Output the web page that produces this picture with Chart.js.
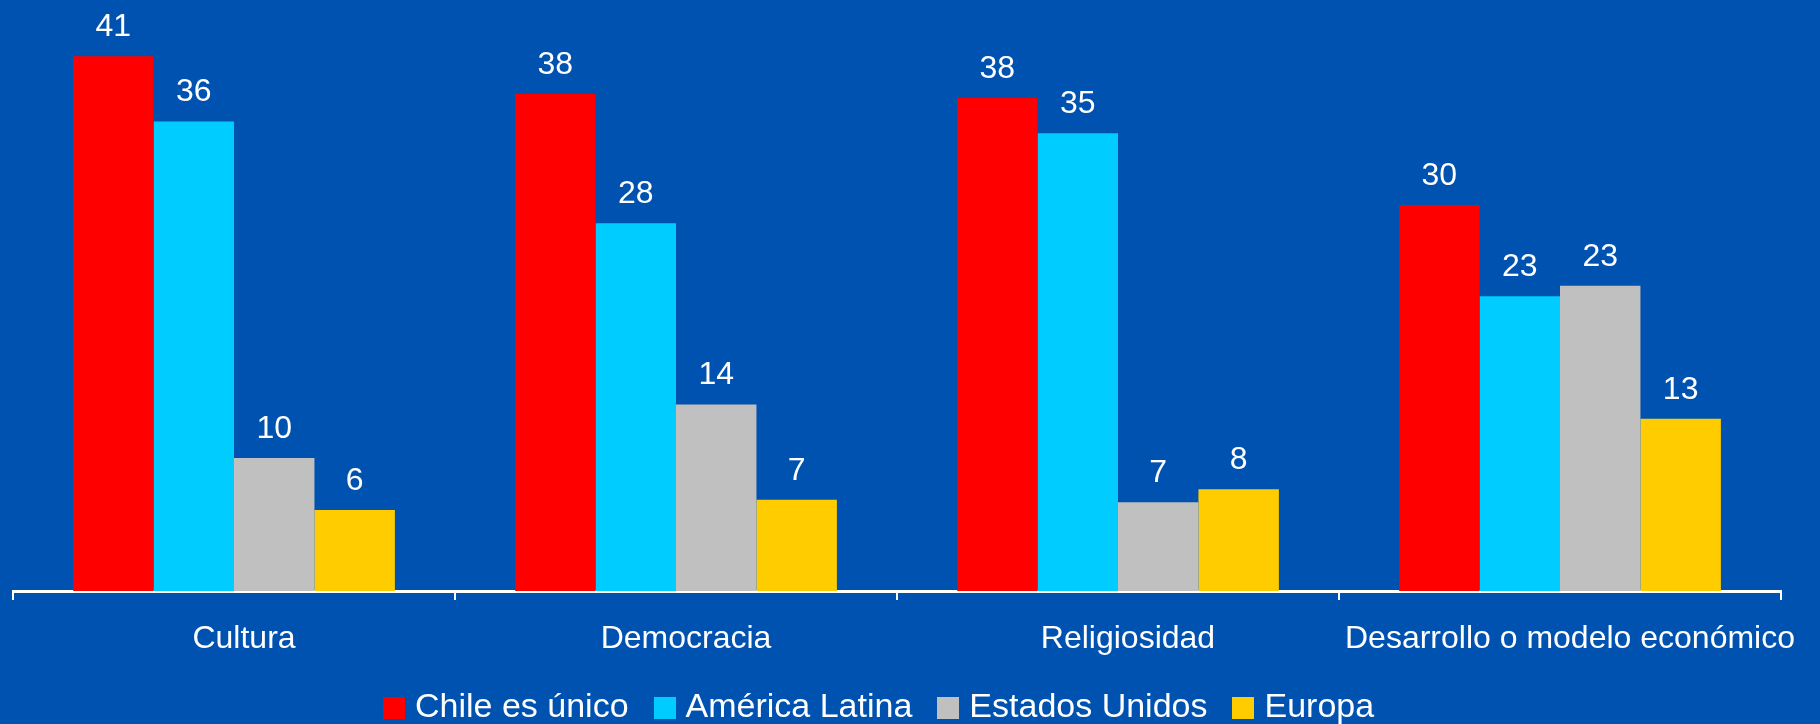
<!DOCTYPE html>
<html>
<head>
<meta charset="utf-8">
<script src="https://cdn.jsdelivr.net/npm/chart.js@4/dist/chart.umd.min.js"></script>
<style>
  body { margin: 0; background: #0052b0; }
  #wrap { position: relative; width: 1820px; height: 724px; overflow: hidden; }
  #legend {
    position: absolute; top: 688px; left: 383px;
    display: flex; align-items: flex-start;
    font: 34px "Liberation Sans", Arial, sans-serif; color: #fff; line-height: 34px;
  }
  #legend .item { display: flex; align-items: flex-start; margin-right: 25px; white-space: nowrap; }
  #legend .box { width: 22px; height: 22px; margin: 9px 10px 0 0; }
</style>
</head>
<body>
<div id="wrap">
  <canvas id="chart" width="1820" height="724"></canvas>
  <div id="legend"></div>
</div>
<script>
const categories = ['Cultura', 'Democracia', 'Religiosidad', 'Desarrollo o modelo económico'];
const seriesNames = ['Chile es único', 'América Latina', 'Estados Unidos', 'Europa'];
const chileValues = [41.0, 38.1, 37.8, 29.6];
const latamValues = [36.0, 28.2, 35.1, 22.6];
const usaValues = [10.2, 14.3, 6.8, 23.4];
const europeValues = [6.2, 7.0, 7.8, 13.2];
const seriesColors = ['#ff0000', '#00ccff', '#c0c0c0', '#ffcc00'];

const FONT = '"Liberation Sans", Arial, sans-serif';

// values printed above each bar, rounded like the original
const valueLabels = {
    id: 'valueLabels',
    afterDatasetsDraw(chart) {
        const ctx = chart.ctx;
        ctx.save();
        ctx.fillStyle = '#ffffff';
        ctx.font = '32px ' + FONT;
        ctx.textAlign = 'center';
        ctx.textBaseline = 'alphabetic';
        chart.data.datasets.forEach((ds, i) => {
            chart.getDatasetMeta(i).data.forEach((bar, j) => {
                ctx.fillText(String(Math.round(ds.data[j])), bar.x, bar.y - 20);
            });
        });
        ctx.restore();
    }
};

const allValues = [chileValues, latamValues, usaValues, europeValues];

const chart = new Chart(document.getElementById('chart').getContext('2d'), {
    type: 'bar',
    data: {
        labels: categories,
        datasets: allValues.map((vals, i) => ({
            label: seriesNames[i],
            data: vals,
            backgroundColor: seriesColors[i],
            borderWidth: 0,
            categoryPercentage: 0.728,
            barPercentage: 1.0
        }))
    },
    options: {
        responsive: false,
        devicePixelRatio: 1,
        animation: false,
        layout: { padding: { left: 13, right: 39, top: 4, bottom: 63 } },
        plugins: {
            legend: { display: false },
            tooltip: { enabled: false }
        },
        scales: {
            x: {
                offset: true,
                border: { display: true, color: '#ffffff', width: 3 },
                grid: {
                    display: true,
                    offset: true,
                    drawOnChartArea: false,
                    drawTicks: true,
                    tickLength: 9,
                    color: '#ffffff',
                    lineWidth: 2
                },
                ticks: {
                    color: '#ffffff',
                    font: { family: FONT, size: 32 },
                    padding: 20,
                    labelOffset: 10,
                    autoSkip: false,
                    maxRotation: 0,
                    minRotation: 0
                },
                afterFit(scale) { scale.height = 70; }
            },
            y: {
                display: false,
                min: 0,
                max: 45
            }
        }
    },
    plugins: [valueLabels]
});

// legend as html, colours taken from the datasets
const legendEl = document.getElementById('legend');
chart.data.datasets.forEach(ds => {
    const item = document.createElement('div');
    item.className = 'item';
    const box = document.createElement('span');
    box.className = 'box';
    box.style.background = ds.backgroundColor;
    const txt = document.createElement('span');
    txt.textContent = ds.label;
    item.appendChild(box);
    item.appendChild(txt);
    legendEl.appendChild(item);
});
</script>
</body>
</html>
